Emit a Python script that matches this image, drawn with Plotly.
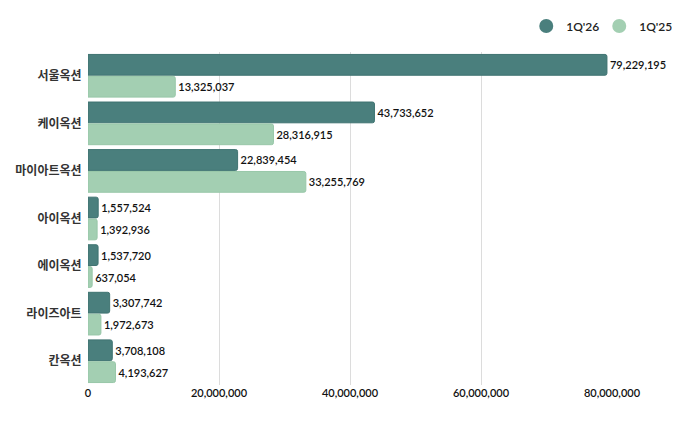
import plotly.graph_objects as go

categories = ["서울옥션", "케이옥션", "마이아트옥션", "아이옥션", "에이옥션", "라이즈아트", "칸옥션"]
q1_26 = [79229195, 43733652, 22839454, 1557524, 1537720, 3307742, 3708108]
q1_25 = [13325037, 28316915, 33255769, 1392936, 637054, 1972673, 4193627]
series_names = ["1Q'26", "1Q'25"]
tick_vals = [0, 20000000, 40000000, 60000000, 80000000]

dark = "#4a7f7d"
light = "#a3cfb2"
num_font = "Lato, Noto Sans CJK KR"
kr_font = "Noto Sans CJK KR"

fig = go.Figure()

for name, vals, col, line_col in [
	(series_names[0], q1_26, dark, "#3f7371"),
	(series_names[1], q1_25, light, "#98c7a8"),
]:
	fig.add_trace(go.Bar(
		y=categories,
		x=vals,
		orientation="h",
		name=name,
		marker=dict(color=col, line=dict(color=line_col, width=1), cornerradius=2),
		text=["{:,}".format(v) for v in vals],
		textposition="outside",
		textfont=dict(size=11, color="#111111", family=num_font, weight=600),
		cliponaxis=False,
		showlegend=False,
	))
	# circle markers for the legend
	fig.add_trace(go.Scatter(
		x=[None], y=[None],
		mode="markers",
		name=name,
		marker=dict(symbol="circle", size=14, color=col),
	))

fig.update_layout(
	width=700,
	height=426,
	barmode="group",
	bargap=0.08,
	bargroupgap=0.05,
	plot_bgcolor="white",
	paper_bgcolor="white",
	margin=dict(l=80, r=96, t=44, b=49, autoexpand=False),
	font=dict(family=num_font, size=11, color="#1a1a1a"),
	legend=dict(
		orientation="h",
		x=1.115, xanchor="right",
		y=1.078, yanchor="middle",
		font=dict(size=12, color="#222", family=num_font, weight=600),
		entrywidth=28,
		traceorder="normal",
		bgcolor="rgba(0,0,0,0)",
	),
	xaxis=dict(
		range=[0, 80000000],
		tickvals=tick_vals,
		ticktext=["{:,}".format(v) for v in tick_vals],
		showgrid=True,
		gridcolor="#dcdcdc",
		gridwidth=1,
		zeroline=False,
		showline=False,
		automargin=False,
		tickfont=dict(size=11, color="#111111", family=num_font, weight=600),
	),
	yaxis=dict(
		autorange="reversed",
		showgrid=False,
		automargin=False,
		tickfont=dict(size=12, color="#333", family=kr_font, weight=700),
		ticksuffix="  ",
	),
)

fig.write_html("out.html")
